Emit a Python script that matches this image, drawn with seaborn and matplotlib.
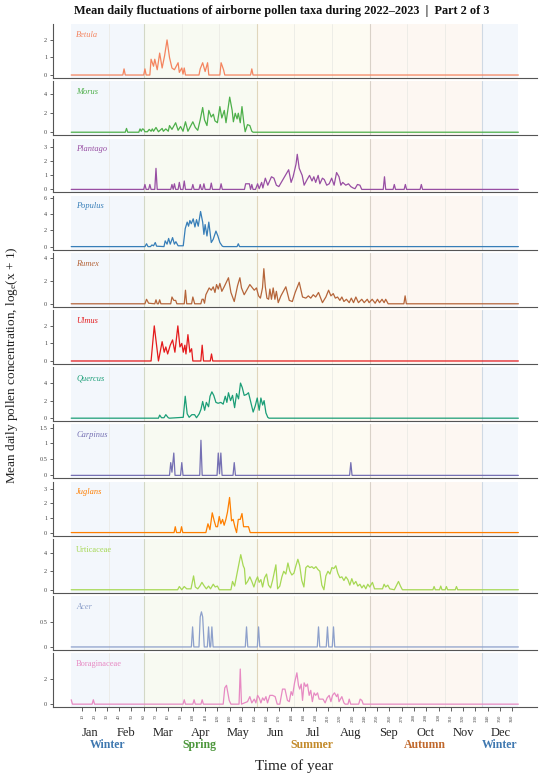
import matplotlib
matplotlib.use("Agg")
import matplotlib.pyplot as plt
import matplotlib.transforms as mtransforms
import seaborn as sns
import pandas as pd

# ---------------- data (day of year, log_e(x+1)) ----------------
taxa = ["Betula", "Morus", "Plantago", "Populus", "Rumex", "Ulmus",
        "Quercus", "Carpinus", "Juglans", "Urticaceae", "Acer", "Boraginaceae"]
italic_taxa = ["Betula", "Morus", "Plantago", "Populus", "Rumex", "Ulmus",
               "Quercus", "Carpinus", "Juglans", "Acer"]
colors = ["#f4845f", "#4daf4a", "#984ea3", "#377eb8", "#b5653a", "#e41a1c",
          "#1b9e77", "#7570b3", "#ff7f00", "#a6d854", "#8da0cb", "#e78ac3"]
yticks = [[0, 1, 2], [0, 2, 4], [0, 1, 2, 3], [0, 2, 4, 6], [0, 2, 4], [0, 1, 2],
          [0, 2, 4], [0, 0.5, 1, 1.5], [0, 1, 2, 3], [0, 2, 4], [0, 0.5], [0, 2]]

betula = [(1,0),(43,0),(44,0.35),(45,0),(60,0),(61,0.35),(62,0),(65,0),(66,0.9),(68,0.5),
          (69,0.9),(71,0.3),(73,1.25),(75,0.4),(77,1.1),(79,2.0),(81,1.0),(83,0.4),(85,0.3),
          (88,0.7),(89,0.15),(91,0.4),(92,0.05),(93,0.4),(94,0),(105,0),(106,0.35),(108,0.7),
          (110,0.2),(112,0.7),(113,0),(122,0),(123,0.7),(125,0.3),(126,0),(147,0),(148,0.35),
          (149,0),(365,0)]
morus = [(1,0),(45,0),(46,0.4),(47,0),(56,0),(57,0.35),(58,0.1),(59,0.35),(60,0.3),(61,0.05),
         (63,0.05),(64.5,0.3),(66,0.1),(67,0.35),(68,0.1),(70,0.5),(72,0.05),(75,0.4),(76,0.1),
         (78,0.35),(80,0.1),(81,0.7),(83,0.3),(86,1.0),(88,0.2),(90,0.6),(92,0.1),(94,1.1),
         (96,0.1),(100,1.1),(102,0.5),(104,0.2),(106,1.3),(108,2.6),(109.5,1.3),(111.5,0.7),
         (113,2.3),(115,1.6),(116.7,1.9),(118,1.2),(120,1.0),(122,2.7),(123.6,1.5),(125.6,2.3),
         (127,1.0),(130,3.7),(132,2.3),(133,1.1),(134.5,2.0),(136,1.4),(137,2.0),(138.6,1.0),
         (140,2.7),(141.5,1.0),(142.6,0.05),(144.5,0.8),(146.4,0.7),(148,0.1),(149,0),(365,0)]
plantago = [(1,0),(60,0),(61,0.35),(62,0),(64,0),(65,0.35),(66,0),(69,0),(70,1.5),(71,0),
            (82,0),(83,0.35),(84,0),(85,0.4),(86,0),(88,0),(89,0.5),(90,0),(92,0),(93,0.6),
            (94,0),(99,0),(100,0.35),(101,0),(105,0),(106,0.35),(107,0),(108,0),(109,0.4),
            (110,0),(114,0),(115,0.45),(116,0),(122,0),(123,0.4),(124,0),(142,0),(143,0.4),
            (146,0.4),(147,0),(148,0.35),(149,0),(151,0),(152.7,0.4),(154,0.05),(156,0.5),
            (157,0.1),(159,0.8),(161,0.3),(164,0.9),(166,0.8),(168,0.3),(170,0.2),(174,0.8),
            (176,1.1),(178,1.4),(180,0.5),(181.6,0.9),(184,1.8),(185,2.5),(186.6,1.5),(189,1.0),
            (190.6,0.3),(193,0.7),(195,1.0),(197,0.6),(198.5,0.9),(200,0.5),(202,1.0),(203.4,0.4),
            (205.5,0.8),(207,0.7),(209,0.3),(211,0.4),(213,0.8),(215,0.3),(217,1.2),(219,0.9),
            (220.5,0.3),(222,0.5),(224.5,0.3),(226.7,0.4),(228.6,0.2),(230.5,0.1),(232,0.05),
            (234,0.35),(236,0.3),(237.5,0),(255,0),(256,0.9),(257,0),(263,0),(264,0.35),(265,0),
            (272,0),(273,0.35),(274,0),(285,0),(286,0.35),(287,0),(365,0)]
populus = [(1,0),(61,0),(62.3,0.35),(63.5,0),(65.5,0),(66.7,0.2),(68,0.1),(69.4,0.5),(70.5,0.05),
           (76.5,0),(77.5,0.7),(79,0.3),(80.3,1.0),(81.6,0.3),(83.5,1.1),(85,0.3),(86.2,0.6),
           (88,0.1),(92.2,0.1),(93.8,2.2),(95.4,3.0),(96.5,2.5),(97.6,3.2),(98.7,2.8),(100.3,3.4),
           (101.7,2.4),(103,3.3),(104.4,2.5),(106.3,4.3),(108,3.0),(109,1.5),(110,2.7),(111.5,1.3),
           (113,3.0),(115,0.5),(116.6,0.9),(118.8,1.9),(120.4,1.3),(122,0.5),(124,0.05),(125,0),
           (136,0),(137,0.35),(138,0),(365,0)]
rumex = [(1,0),(61,0),(62.3,0.4),(64,0.05),(69,0),(70,0.35),(71,0),(72,0),(73,0.35),(74,0),
         (82,0),(83,0.6),(84.5,0.3),(86,0.3),(87,0),(93,0),(94,1.2),(95,0),(99,0),(100,0.6),
         (101.5,0),(106.5,0),(107.5,0.4),(108.5,0.4),(109.5,0.05),(110.6,0.8),(113.3,1.4),
         (115,1.2),(116.6,1.5),(118,1.0),(119.3,1.7),(120.7,1.3),(122,1.8),(123.6,1.1),
         (125.5,1.5),(129,2.3),(131,1.0),(133.7,0.2),(136.4,1.6),(138.3,2.3),(139.6,1.4),
         (141.8,0.8),(146.4,1.7),(150,1.2),(151.8,1.4),(153.5,0.7),(155,0.5),(156.7,1.4),
         (157.8,3.1),(159,1.5),(160.3,0.5),(161.7,0.4),(162.7,1.3),(164,0.4),(165.4,1.4),
         (166.8,0.4),(168,1.1),(169.5,0.1),(171.7,0.7),(175.7,1.5),(178.5,0.3),(181,0.2),
         (183.3,1.0),(186.6,1.9),(189.3,0.6),(192,0.5),(194,0.7),(196,0.5),(198,0.8),(200,0.6),
         (202.3,1.0),(205.5,0.1),(208.3,0.6),(210.5,1.2),(212.4,0.7),(214.3,0.9),(216,0.5),
         (217.8,0.6),(219.7,0.3),(221.3,0.6),(223,0.2),(225,0.4),(227.3,0.1),(229,0.5),
         (230.8,0.1),(232.7,0.6),(234.8,0.1),(237.5,0.4),(239.5,0.1),(242,0.4),(243.5,0.1),
         (246,0.4),(248.4,0.05),(250.3,0.4),(252,0.1),(254,0.4),(255.7,0.1),(257,0.4),(259,0),
         (271.8,0),(272.8,0.7),(273.8,0),(365,0)]
ulmus = [(1,0),(66,0),(68.6,2.0),(72,0),(75,1.1),(76.7,0.5),(78,0.8),(79.5,0.4),(81.6,0.9),
         (83.5,1.2),(85.4,0.5),(87.8,2.0),(89.5,0.8),(91,1.0),(92.2,0.5),(93.5,0.9),(94.4,0.4),
         (96,1.5),(97.6,0.5),(99,0.7),(100,0),(106.5,0),(107.6,0.9),(108.7,0),(114.2,0),
         (115.2,0.4),(116.2,0),(365,0)]
quercus = [(1,0),(72,0),(73,0.35),(74.5,0.05),(76.5,0.05),(78,0.4),(80,0.05),(81,0),(92.2,0.1),
           (93.8,2.5),(95.4,0.5),(97,0.1),(99.2,0.4),(101.4,0.4),(103,0.05),(105.2,0.5),
           (106.6,1.0),(108,1.9),(109.6,0.9),(111,1.8),(112.8,1.3),(114,2.5),(115.5,3.0),
           (117,2.6),(118.8,1.8),(120.6,1.7),(122.8,1.8),(124.7,1.6),(126.4,2.5),(127.7,1.8),
           (129,2.9),(130.7,2.0),(132.3,2.6),(134,1.2),(135.6,2.8),(137.2,2.2),(138.8,4.0),
           (140.2,3.5),(141.8,2.6),(143.7,2.7),(145.3,2.9),(147.2,1.8),(149.1,0.7),(150.8,1.4),
           (152.4,2.3),(154,0.9),(155.4,2.3),(156.8,1.5),(158,2.0),(159.5,0.6),(161,0.1),
           (162,0),(365,0)]
carpinus = [(1,0),(81,0),(82,0.4),(83,0.1),(84.5,0.7),(85.5,0),(90,0),(91,0.4),(92,0),
            (105.6,0),(106.6,1.1),(107.6,0),(119.7,0),(120.7,0.7),(121.7,0.05),(122.8,0.7),
            (123.8,0),(132.7,0),(133.7,0.4),(134.7,0),(227.6,0),(228.6,0.4),(229.6,0),(365,0)]
juglans = [(1,0),(84.7,0),(85.7,0.4),(86.7,0),(89.8,0),(90.8,0.4),(91.8,0),(110.6,0),
           (112.3,0.6),(113.9,0.2),(115.8,1.35),(117.4,0.8),(118.8,0.4),(120.1,0.4),(121.5,1.1),
           (122.8,0.6),(124.2,0.9),(125.5,0.5),(126.9,0.9),(128.2,1.4),(129.9,2.4),(131.5,0.8),
           (132.8,0.9),(134.2,0.4),(135.6,0),(137,0.9),(138.6,0.9),(140,1.3),(141.3,0.4),
           (145.3,0.4),(146.7,0),(365,0)]
urticaceae = [(1,0),(87.6,0),(89,0.35),(91,0),(93,0.35),(95,0.1),(98.5,0.1),(100.6,1.5),
              (102,0.3),(104,0.1),(105.7,0.4),(107.4,0.8),(109.3,0.4),(111,0.1),(112.8,0.4),
              (114.4,0.1),(116.6,0.6),(118.2,0.3),(120,0.4),(121.5,0),(131,0),(132.3,0.9),
              (134,0.4),(135.6,1.5),(137.8,3.0),(139,3.8),(141,2.6),(142,2.3),(143,0.6),
              (144.6,0.9),(146.4,1.4),(148,0.9),(149.7,0.3),(151.3,1.0),(152.7,1.4),(154,0.8),
              (155.4,1.1),(156.8,0.3),(158.4,1.3),(160,1.7),(161.6,0.5),(163.3,0.2),(164.9,1.0),
              (167.6,2.7),(169,0.1),(170.8,0.4),(172.5,1.4),(174,2.0),(175.7,1.7),(177.4,2.9),
              (179,2.0),(180.6,1.6),(182.3,1.8),(183.9,2.6),(185.5,3.3),(187,2.6),(188.7,1.0),
              (190.4,0.3),(192,2.4),(193.6,2.6),(195.2,2.4),(196.9,2.5),(198.5,2.3),(200.2,2.5),
              (201.8,2.2),(203.4,2.0),(205,0.5),(206.7,0),(208.3,1.5),(210,2.0),(211.6,1.7),
              (213.2,2.4),(214.8,2.3),(216.4,2.6),(218,1.8),(219.7,1.3),(221.3,1.4),(223,1.0),
              (224.6,1.4),(226.2,1.1),(227.8,0.5),(229.4,1.2),(231,0.6),(232.7,0.9),(234.3,0.4),
              (236,0.6),(237.6,0.2),(239.2,0.5),(240.8,0.1),(242.4,0.6),(244,0.3),(246.2,0.8),
              (247.9,0.1),(254.4,0.1),(255.7,0.6),(257,0.3),(258.7,0.5),(260.3,0.1),(264,0),
              (267.4,0.9),(269,0.4),(270.6,0),(295.4,0),(296.4,0.35),(297.4,0),(300.8,0),
              (301.8,0.4),(302.8,0),(305.4,0),(306.4,0.35),(307.4,0),(313.6,0),(314.6,0.35),
              (315.6,0),(365,0)]
acer = [(1,0),(98.8,0),(99.8,0.4),(100.8,0),(105,0),(106,0.6),(107,0.7),(108,0.6),(109.3,0),
        (111.8,0),(112.8,0.4),(113.8,0),(114.5,0),(115.5,0.4),(116.5,0),(142.7,0),(143.7,0.4),
        (144.7,0),(152.5,0),(153.5,0.4),(154.5,0),(201.3,0),(202.3,0.4),(203.3,0),(208.6,0),
        (209.6,0.4),(210.6,0),(213.5,0),(214.5,0.4),(215.5,0),(365,0)]
boraginaceae = [(1,0.35),(2,0),(18,0),(19,0.35),(20,0),(92,0),(93,0.35),(94,0),(100,0),
                (101,0.35),(102,0),(106.6,0),(107.6,0.35),(108.6,0),(124.7,0),(126,1.3),
                (127.4,1.5),(128.5,0.9),(129.6,0.3),(131,0),(137.6,0),(138.6,2.8),(139.6,0),
                (144.5,0.2),(146.4,0.6),(148,0.1),(150,0.4),(151.3,0.1),(152.7,0.7),(154,0.5),
                (155.4,0.1),(156.8,0.5),(158.1,0.3),(159.5,0.6),(160.8,0.1),(162.7,0.7),
                (164.9,0.7),(167,0.6),(168.7,0),(170.8,0),(173,1.2),(175,1.2),(177,0.3),
                (178.5,0.2),(180,1.0),(181.2,0.7),(182.8,1.7),(184.7,2.5),(186,1.5),(187,1.2),
                (188.2,1.6),(189.3,0.3),(190.6,1.7),(192,1.4),(193.3,1.6),(194.7,0.7),(196,1.1),
                (197.3,0.2),(198.7,0.9),(200,0.7),(201.5,0.9),(202.8,0.4),(204.5,0.4),(206,0.4),
                (207.7,0.1),(209.3,0.5),(211,0.7),(212.4,0.2),(213.7,0.7),(215.3,0.9),(217,0.6),
                (218,0.8),(219,0.2),(221.3,0.6),(223,0.1),(224,0),(226.3,0),(227.3,0.4),
                (228.5,0),(235,0),(236.2,0.4),(237.6,0.3),(238.7,0),(365,0)]
series = [betula, morus, plantago, populus, rumex, ulmus, quercus, carpinus, juglans,
          urticaceae, acer, boraginaceae]

months = ["Jan", "Feb", "Mar", "Apr", "May", "Jun", "Jul", "Aug", "Sep", "Oct", "Nov", "Dec"]
month_starts = [1, 32, 60, 91, 121, 152, 182, 213, 244, 274, 305, 335, 366]
seasons = ["Winter", "Spring", "Summer", "Autumn", "Winter"]
season_bounds = [(1, 60), (60, 152), (152, 244), (244, 335), (335, 365)]
season_label_x = [30.5, 105.5, 197, 289, 350]
season_colors = ["#3f78b0", "#4b963a", "#c38a2a", "#c0682c", "#3f78b0"]
season_fill = ["#f3f7fc", "#f8faf2", "#fdfbf2", "#fdf7f2", "#f3f7fc"]
season_line = {60: "#d3d8c6", 152: "#e0d6bc", 244: "#d9d1c8", 335: "#cfd9e4"}

rows = []
for name, s in zip(taxa, series):
    for d, v in s:
        rows.append({"taxon": name, "day": d, "value": v})
df = pd.DataFrame(rows)

# ---------------- plot ----------------
sns.set_theme(style="ticks")
plt.rcParams["font.family"] = ["Liberation Serif", "DejaVu Serif"]
plt.rcParams["mathtext.default"] = "regular"

fig, axes = plt.subplots(len(taxa), 1, figsize=(5.5, 7.78), dpi=100, sharex=True)
fig.subplots_adjust(left=0.096, right=0.976, top=0.969, bottom=0.091, hspace=0.06)

for i, (ax, name) in enumerate(zip(axes, taxa)):
    for (a, b), fc in zip(season_bounds, season_fill):
        ax.axvspan(a, b, color=fc, lw=0, zorder=0)
    for m in month_starts[1:-1]:
        if m in season_line:
            ax.axvline(m, color=season_line[m], lw=0.8, zorder=0.5)
        else:
            ax.axvline(m, color="#ebebe6", lw=0.6, zorder=0.5)
    sub = df[df["taxon"] == name]
    sns.lineplot(data=sub, x="day", y="value", ax=ax, color=colors[i], lw=0.9,
                 estimator=None, errorbar=None, sort=True, zorder=3)
    top = 1.45 * sub["value"].max()
    ax.set_ylim(-0.06 * top, top)
    ax.set_xlim(-14, 380)
    ax.set_yticks(yticks[i])
    ax.set_yticklabels(["%g" % t for t in yticks[i]])
    ax.set_xlabel("")
    ax.set_ylabel("")
    ax.tick_params(axis="y", labelsize=4.5, length=2.5, width=0.6, pad=1.5, colors="#444444")
    ax.tick_params(axis="x", length=0)
    for sp in ["top", "right"]:
        ax.spines[sp].set_visible(False)
    for sp in ["left", "bottom"]:
        ax.spines[sp].set_color("#555555")
        ax.spines[sp].set_linewidth(0.8)
    ax.text(5, 0.8, name, transform=mtransforms.blended_transform_factory(ax.transData, ax.transAxes),
            color=colors[i], fontsize=6, style="italic" if name in italic_taxa else "normal",
            va="center", ha="left")

axb = axes[-1]
axb.set_xticks(list(range(10, 361, 10)))
axb.set_xticklabels([str(t) for t in range(10, 361, 10)], rotation=90, fontsize=3.5, color="#555555")
axb.tick_params(axis="x", length=3, width=0.6, pad=2, colors="#444444")

bt = mtransforms.blended_transform_factory(axb.transData, fig.transFigure)
for k, mname in enumerate(months):
    mid = (month_starts[k] + month_starts[k + 1]) / 2
    fig.text(mid, 0.058, mname, transform=bt, ha="center", va="center", fontsize=9, color="#222222")
for sname, sx, sc in zip(seasons, season_label_x, season_colors):
    fig.text(sx, 0.0425, sname, transform=bt, ha="center", va="center", fontsize=8.5,
             color=sc, fontweight="bold")

fig.text(0.535, 0.0155, "Time of year", ha="center", va="center", fontsize=11, color="#222222")
fig.text(0.022, 0.531, "Mean daily pollen concentration, log$_{e}$(x + 1)", rotation=90,
         ha="center", va="center", fontsize=9.5, color="#222222")
fig.text(0.513, 0.986, "Mean daily fluctuations of airborne pollen taxa during 2022\u20132023  |  Part 2 of 3",
         ha="center", va="center", fontsize=8.8, fontweight="bold", color="#111111")

fig.savefig("out.png", dpi=100)
